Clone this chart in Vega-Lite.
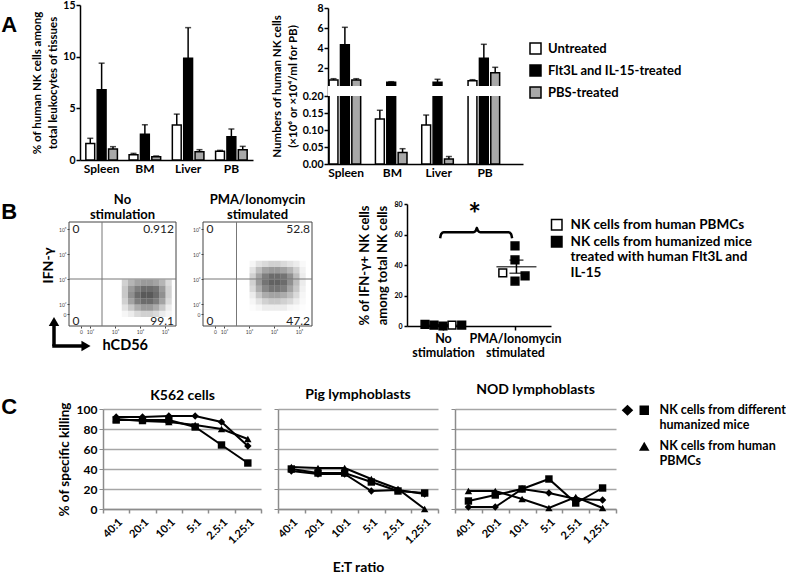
{
"$schema":"https://vega.github.io/schema/vega-lite/v6.json",
"padding":{"left":1,"top":0,"right":0,"bottom":0},
"background":"white",
"bounds":"full",
"spacing":5,
"resolve":{"scale":{"fill":"independent","shape":"independent","opacity":"independent"},"legend":{"fill":"independent","shape":"independent","opacity":"independent"}},
"config":{
 "view":{"stroke":null},
 "font":"Lato",
 "axis":{"labelColor":"black","titleColor":"black","domainColor":"black","tickColor":"black","grid":false,"labelFontWeight":"bold","titleFontWeight":"bold","labelFont":"Lato","titleFont":"Lato","labelOverlap":false},
 "legend":{"labelColor":"black","labelFont":"Lato","labelFontWeight":"bold","padding":0,"labelLimit":400},
 "title":{"color":"black","font":"Lato","fontWeight":"bold"}
},
"datasets":{
 "a1":[
  {"t":"Spleen","g":"Untreated","v":1.6,"e":2.1},
  {"t":"Spleen","g":"Flt3L and IL-15-treated","v":6.8,"e":9.37},
  {"t":"Spleen","g":"PBS-treated","v":1.06,"e":1.29},
  {"t":"BM","g":"Untreated","v":0.51,"e":0.64},
  {"t":"BM","g":"Flt3L and IL-15-treated","v":2.5,"e":3.41},
  {"t":"BM","g":"PBS-treated","v":0.32,"e":0.39},
  {"t":"Liver","g":"Untreated","v":3.38,"e":4.44},
  {"t":"Liver","g":"Flt3L and IL-15-treated","v":9.85,"e":12.81},
  {"t":"Liver","g":"PBS-treated","v":0.8,"e":1.0},
  {"t":"PB","g":"Untreated","v":0.84,"e":0.93},
  {"t":"PB","g":"Flt3L and IL-15-treated","v":2.25,"e":3.0},
  {"t":"PB","g":"PBS-treated","v":1.0,"e":1.32}
 ],
 "a2":[
  {"t":"Spleen","g":"Untreated","v":0.8,"e":0.93},
  {"t":"Spleen","g":"Flt3L and IL-15-treated","v":4.33,"e":6.07},
  {"t":"Spleen","g":"PBS-treated","v":0.8,"e":0.93},
  {"t":"BM","g":"Untreated","v":0.132,"e":0.158},
  {"t":"BM","g":"Flt3L and IL-15-treated","v":0.57,"e":0.63},
  {"t":"BM","g":"PBS-treated","v":0.034,"e":0.045},
  {"t":"Liver","g":"Untreated","v":0.115,"e":0.144},
  {"t":"Liver","g":"Flt3L and IL-15-treated","v":0.57,"e":0.87},
  {"t":"Liver","g":"PBS-treated","v":0.015,"e":0.022},
  {"t":"PB","g":"Untreated","v":0.73,"e":0.83},
  {"t":"PB","g":"Flt3L and IL-15-treated","v":2.97,"e":4.37},
  {"t":"PB","g":"PBS-treated","v":1.53,"e":2.07}
 ],
 "flow":[
  {"p":"N","x":3.25,"y":2.75,"d":0.25},{"p":"N","x":3.5,"y":2.75,"d":0.4},{"p":"N","x":3.75,"y":2.75,"d":0.5},{"p":"N","x":4.0,"y":2.75,"d":0.55},{"p":"N","x":4.25,"y":2.75,"d":0.55},{"p":"N","x":4.5,"y":2.75,"d":0.5},{"p":"N","x":4.75,"y":2.75,"d":0.4},{"p":"N","x":5.0,"y":2.75,"d":0.2},
  {"p":"N","x":3.25,"y":2.5,"d":0.3},{"p":"N","x":3.5,"y":2.5,"d":0.55},{"p":"N","x":3.75,"y":2.5,"d":0.7},{"p":"N","x":4.0,"y":2.5,"d":0.8},{"p":"N","x":4.25,"y":2.5,"d":0.8},{"p":"N","x":4.5,"y":2.5,"d":0.75},{"p":"N","x":4.75,"y":2.5,"d":0.55},{"p":"N","x":5.0,"y":2.5,"d":0.25},
  {"p":"N","x":3.25,"y":2.25,"d":0.3},{"p":"N","x":3.5,"y":2.25,"d":0.6},{"p":"N","x":3.75,"y":2.25,"d":0.8},{"p":"N","x":4.0,"y":2.25,"d":0.9},{"p":"N","x":4.25,"y":2.25,"d":0.9},{"p":"N","x":4.5,"y":2.25,"d":0.8},{"p":"N","x":4.75,"y":2.25,"d":0.6},{"p":"N","x":5.0,"y":2.25,"d":0.25},
  {"p":"N","x":3.25,"y":2.0,"d":0.25},{"p":"N","x":3.5,"y":2.0,"d":0.5},{"p":"N","x":3.75,"y":2.0,"d":0.7},{"p":"N","x":4.0,"y":2.0,"d":0.8},{"p":"N","x":4.25,"y":2.0,"d":0.8},{"p":"N","x":4.5,"y":2.0,"d":0.7},{"p":"N","x":4.75,"y":2.0,"d":0.5},{"p":"N","x":5.0,"y":2.0,"d":0.2},
  {"p":"N","x":3.25,"y":1.75,"d":0.15},{"p":"N","x":3.5,"y":1.75,"d":0.3},{"p":"N","x":3.75,"y":1.75,"d":0.45},{"p":"N","x":4.0,"y":1.75,"d":0.55},{"p":"N","x":4.25,"y":1.75,"d":0.55},{"p":"N","x":4.5,"y":1.75,"d":0.45},{"p":"N","x":4.75,"y":1.75,"d":0.3},{"p":"N","x":5.0,"y":1.75,"d":0.1},
  {"p":"N","x":3.25,"y":1.5,"d":0.05},{"p":"N","x":3.5,"y":1.5,"d":0.1},{"p":"N","x":3.75,"y":1.5,"d":0.2},{"p":"N","x":4.0,"y":1.5,"d":0.25},{"p":"N","x":4.25,"y":1.5,"d":0.25},{"p":"N","x":4.5,"y":1.5,"d":0.2},{"p":"N","x":4.75,"y":1.5,"d":0.1},{"p":"N","x":5.0,"y":1.5,"d":0.05},
  {"p":"P","x":3.0,"y":3.5,"d":0.05},{"p":"P","x":3.25,"y":3.5,"d":0.15},{"p":"P","x":3.5,"y":3.5,"d":0.2},{"p":"P","x":3.75,"y":3.5,"d":0.25},{"p":"P","x":4.0,"y":3.5,"d":0.25},{"p":"P","x":4.25,"y":3.5,"d":0.2},{"p":"P","x":4.5,"y":3.5,"d":0.15},{"p":"P","x":4.75,"y":3.5,"d":0.1},{"p":"P","x":5.0,"y":3.5,"d":0.03},
  {"p":"P","x":3.0,"y":3.25,"d":0.15},{"p":"P","x":3.25,"y":3.25,"d":0.35},{"p":"P","x":3.5,"y":3.25,"d":0.5},{"p":"P","x":3.75,"y":3.25,"d":0.55},{"p":"P","x":4.0,"y":3.25,"d":0.55},{"p":"P","x":4.25,"y":3.25,"d":0.5},{"p":"P","x":4.5,"y":3.25,"d":0.4},{"p":"P","x":4.75,"y":3.25,"d":0.25},{"p":"P","x":5.0,"y":3.25,"d":0.08},
  {"p":"P","x":3.0,"y":3.0,"d":0.25},{"p":"P","x":3.25,"y":3.0,"d":0.5},{"p":"P","x":3.5,"y":3.0,"d":0.7},{"p":"P","x":3.75,"y":3.0,"d":0.8},{"p":"P","x":4.0,"y":3.0,"d":0.8},{"p":"P","x":4.25,"y":3.0,"d":0.75},{"p":"P","x":4.5,"y":3.0,"d":0.6},{"p":"P","x":4.75,"y":3.0,"d":0.35},{"p":"P","x":5.0,"y":3.0,"d":0.1},
  {"p":"P","x":3.0,"y":2.75,"d":0.25},{"p":"P","x":3.25,"y":2.75,"d":0.55},{"p":"P","x":3.5,"y":2.75,"d":0.75},{"p":"P","x":3.75,"y":2.75,"d":0.85},{"p":"P","x":4.0,"y":2.75,"d":0.85},{"p":"P","x":4.25,"y":2.75,"d":0.8},{"p":"P","x":4.5,"y":2.75,"d":0.6},{"p":"P","x":4.75,"y":2.75,"d":0.35},{"p":"P","x":5.0,"y":2.75,"d":0.1},
  {"p":"P","x":3.0,"y":2.5,"d":0.2},{"p":"P","x":3.25,"y":2.5,"d":0.45},{"p":"P","x":3.5,"y":2.5,"d":0.65},{"p":"P","x":3.75,"y":2.5,"d":0.75},{"p":"P","x":4.0,"y":2.5,"d":0.75},{"p":"P","x":4.25,"y":2.5,"d":0.7},{"p":"P","x":4.5,"y":2.5,"d":0.5},{"p":"P","x":4.75,"y":2.5,"d":0.3},{"p":"P","x":5.0,"y":2.5,"d":0.08},
  {"p":"P","x":3.0,"y":2.25,"d":0.1},{"p":"P","x":3.25,"y":2.25,"d":0.3},{"p":"P","x":3.5,"y":2.25,"d":0.45},{"p":"P","x":3.75,"y":2.25,"d":0.5},{"p":"P","x":4.0,"y":2.25,"d":0.5},{"p":"P","x":4.25,"y":2.25,"d":0.45},{"p":"P","x":4.5,"y":2.25,"d":0.35},{"p":"P","x":4.75,"y":2.25,"d":0.2},{"p":"P","x":5.0,"y":2.25,"d":0.05},
  {"p":"P","x":3.0,"y":2.0,"d":0.05},{"p":"P","x":3.25,"y":2.0,"d":0.15},{"p":"P","x":3.5,"y":2.0,"d":0.25},{"p":"P","x":3.75,"y":2.0,"d":0.3},{"p":"P","x":4.0,"y":2.0,"d":0.3},{"p":"P","x":4.25,"y":2.0,"d":0.25},{"p":"P","x":4.5,"y":2.0,"d":0.2},{"p":"P","x":4.75,"y":2.0,"d":0.1},{"p":"P","x":5.0,"y":2.0,"d":0.03},
  {"p":"P","x":3.0,"y":1.75,"d":0.02},{"p":"P","x":3.25,"y":1.75,"d":0.05},{"p":"P","x":3.5,"y":1.75,"d":0.1},{"p":"P","x":3.75,"y":1.75,"d":0.1},{"p":"P","x":4.0,"y":1.75,"d":0.1},{"p":"P","x":4.25,"y":1.75,"d":0.1},{"p":"P","x":4.5,"y":1.75,"d":0.05},{"p":"P","x":4.75,"y":1.75,"d":0.03},{"p":"P","x":5.0,"y":1.75,"d":0.01}
 ],
 "flowlab":[
  {"p":"N","q":"UL","t":"0"},{"p":"N","q":"UR","t":"0.912"},{"p":"N","q":"LL","t":"0"},{"p":"N","q":"LR","t":"99.1"},
  {"p":"P","q":"UL","t":"0"},{"p":"P","q":"UR","t":"52.8"},{"p":"P","q":"LL","t":"0"},{"p":"P","q":"LR","t":"47.2"}
 ],
 "dots":[
  {"x":0.25,"y":1.0,"g":"mice"},{"x":0.375,"y":0.5,"g":"mice"},{"x":0.5,"y":0.0,"g":"mice"},{"x":0.625,"y":0.5,"g":"PBMC"},{"x":0.76,"y":0.6,"g":"mice"},
  {"x":1.5,"y":52.5,"g":"mice"},{"x":1.5,"y":43.3,"g":"mice"},{"x":1.33,"y":34.8,"g":"PBMC"},{"x":1.64,"y":32.8,"g":"mice"},{"x":1.5,"y":29.5,"g":"mice"}
 ],
 "dsum":[{"x":1.52,"m":38.9,"hi":43.2,"lo":34.6},{"x":0.5,"m":0.5,"hi":0.8,"lo":0.2}],
 "brace":[
  {"x":0.46,"y":57.5},{"x":0.475,"y":60.3},{"x":0.51,"y":61.5},{"x":0.92,"y":61.5},{"x":0.955,"y":62.5},{"x":0.97,"y":64.5},{"x":0.985,"y":62.5},{"x":1.02,"y":61.5},{"x":1.41,"y":61.5},{"x":1.445,"y":60.3},{"x":1.46,"y":57.5}
 ],
 "c":[
  {"k":"K562","r":"40:1","s":"m1","grp":"mice","v":92},{"k":"K562","r":"20:1","s":"m1","grp":"mice","v":92},{"k":"K562","r":"10:1","s":"m1","grp":"mice","v":93},{"k":"K562","r":"5:1","s":"m1","grp":"mice","v":93},{"k":"K562","r":"2.5:1","s":"m1","grp":"mice","v":87},{"k":"K562","r":"1.25:1","s":"m1","grp":"mice","v":63},
  {"k":"K562","r":"40:1","s":"m2","grp":"mice","v":89},{"k":"K562","r":"20:1","s":"m2","grp":"mice","v":89},{"k":"K562","r":"10:1","s":"m2","grp":"mice","v":89},{"k":"K562","r":"5:1","s":"m2","grp":"mice","v":82},{"k":"K562","r":"2.5:1","s":"m2","grp":"mice","v":64},{"k":"K562","r":"1.25:1","s":"m2","grp":"mice","v":46},
  {"k":"K562","r":"40:1","s":"PBMC","grp":"PBMC","v":90},{"k":"K562","r":"20:1","s":"PBMC","grp":"PBMC","v":88},{"k":"K562","r":"10:1","s":"PBMC","grp":"PBMC","v":87},{"k":"K562","r":"5:1","s":"PBMC","grp":"PBMC","v":84},{"k":"K562","r":"2.5:1","s":"PBMC","grp":"PBMC","v":80},{"k":"K562","r":"1.25:1","s":"PBMC","grp":"PBMC","v":70},
  {"k":"Pig","r":"40:1","s":"m1","grp":"mice","v":38},{"k":"Pig","r":"20:1","s":"m1","grp":"mice","v":35},{"k":"Pig","r":"10:1","s":"m1","grp":"mice","v":35},{"k":"Pig","r":"5:1","s":"m1","grp":"mice","v":18},{"k":"Pig","r":"2.5:1","s":"m1","grp":"mice","v":19},{"k":"Pig","r":"1.25:1","s":"m1","grp":"mice","v":15},
  {"k":"Pig","r":"40:1","s":"m2","grp":"mice","v":40},{"k":"Pig","r":"20:1","s":"m2","grp":"mice","v":36},{"k":"Pig","r":"10:1","s":"m2","grp":"mice","v":36},{"k":"Pig","r":"5:1","s":"m2","grp":"mice","v":27},{"k":"Pig","r":"2.5:1","s":"m2","grp":"mice","v":18},{"k":"Pig","r":"1.25:1","s":"m2","grp":"mice","v":16},
  {"k":"Pig","r":"40:1","s":"PBMC","grp":"PBMC","v":42},{"k":"Pig","r":"20:1","s":"PBMC","grp":"PBMC","v":41},{"k":"Pig","r":"10:1","s":"PBMC","grp":"PBMC","v":41},{"k":"Pig","r":"5:1","s":"PBMC","grp":"PBMC","v":30},{"k":"Pig","r":"2.5:1","s":"PBMC","grp":"PBMC","v":20},{"k":"Pig","r":"1.25:1","s":"PBMC","grp":"PBMC","v":0},
  {"k":"NOD","r":"40:1","s":"m1","grp":"mice","v":2},{"k":"NOD","r":"20:1","s":"m1","grp":"mice","v":2},{"k":"NOD","r":"10:1","s":"m1","grp":"mice","v":20},{"k":"NOD","r":"5:1","s":"m1","grp":"mice","v":16},{"k":"NOD","r":"2.5:1","s":"m1","grp":"mice","v":10},{"k":"NOD","r":"1.25:1","s":"m1","grp":"mice","v":9},
  {"k":"NOD","r":"40:1","s":"m2","grp":"mice","v":8},{"k":"NOD","r":"20:1","s":"m2","grp":"mice","v":14},{"k":"NOD","r":"10:1","s":"m2","grp":"mice","v":20},{"k":"NOD","r":"5:1","s":"m2","grp":"mice","v":30},{"k":"NOD","r":"2.5:1","s":"m2","grp":"mice","v":6},{"k":"NOD","r":"1.25:1","s":"m2","grp":"mice","v":21},
  {"k":"NOD","r":"40:1","s":"PBMC","grp":"PBMC","v":18},{"k":"NOD","r":"20:1","s":"PBMC","grp":"PBMC","v":18},{"k":"NOD","r":"10:1","s":"PBMC","grp":"PBMC","v":10},{"k":"NOD","r":"5:1","s":"PBMC","grp":"PBMC","v":1},{"k":"NOD","r":"2.5:1","s":"PBMC","grp":"PBMC","v":12},{"k":"NOD","r":"1.25:1","s":"PBMC","grp":"PBMC","v":1}
 ]
},
"vconcat":[
 {"hconcat":[
  {"width":30,"height":155,"data":{"values":[]},"mark":"point",
   "title":{"text":"A","orient":"left","anchor":"end","angle":0,"frame":"group","offset":0,"baseline":"top","dy":10,"fontSize":22,"font":"Liberation Sans"}},
  {"width":231,"height":155,"data":{"name":"a1"},
   "layer":[
    {"mark":{"type":"bar","stroke":"black","strokeWidth":1.5},
     "encoding":{
      "x":{"field":"t","type":"nominal","sort":["Spleen","BM","Liver","PB"],"scale":{"range":[0,173],"paddingInner":0.27,"paddingOuter":0.135},"axis":{"title":null,"labelAngle":0,"ticks":false,"domainWidth":1.5,"labelFontSize":12,"labelPadding":3}},
      "xOffset":{"field":"g","type":"nominal","sort":["Untreated","Flt3L and IL-15-treated","PBS-treated"],"scale":{"paddingInner":0.22}},
      "y":{"field":"v","type":"quantitative","scale":{"domain":[0,15],"nice":false},"axis":{"values":[0,5,10,15],"tickCount":20,"title":["% of human NK cells among","total leukocytes of tissues"],"titleFontSize":11.5,"titleLineHeight":16,"labelFontSize":10.5,"tickSize":4,"tickWidth":1.5,"domainWidth":1.5,"titlePadding":4,"labelPadding":1}},
      "fill":{"field":"g","type":"nominal","scale":{"domain":["Untreated","Flt3L and IL-15-treated","PBS-treated"],"range":["white","black","#a8a8a8"]},"legend":null}}},
    {"mark":{"type":"rule","color":"black","strokeWidth":1.5},
     "encoding":{
      "x":{"field":"t","type":"nominal","sort":["Spleen","BM","Liver","PB"]},
      "xOffset":{"field":"g","type":"nominal","sort":["Untreated","Flt3L and IL-15-treated","PBS-treated"]},
      "y":{"field":"v","type":"quantitative"},"y2":{"field":"e"}}},
    {"mark":{"type":"tick","color":"black","thickness":1.5,"size":6,"orient":"horizontal"},
     "encoding":{
      "x":{"field":"t","type":"nominal","sort":["Spleen","BM","Liver","PB"]},
      "xOffset":{"field":"g","type":"nominal","sort":["Untreated","Flt3L and IL-15-treated","PBS-treated"]},
      "y":{"field":"e","type":"quantitative"}}}
   ]},
  {"width":195,"height":159,
   "layer":[
    {"data":{"name":"a2"},"mark":{"type":"bar","stroke":"black","strokeWidth":1.5},
     "encoding":{
      "x":{"field":"t","type":"nominal","sort":["Spleen","BM","Liver","PB"],"scale":{"paddingInner":0.266,"paddingOuter":0.238,"align":0.05},"axis":{"title":null,"labelAngle":0,"ticks":false,"domainWidth":1.5,"labelFontSize":12,"labelPadding":3}},
      "xOffset":{"field":"g","type":"nominal","sort":["Untreated","Flt3L and IL-15-treated","PBS-treated"],"scale":{"paddingInner":0.22}},
      "y":{"field":"v","type":"quantitative","scale":{"domain":[0,0.2,0.2001,8],"range":[159,91,81,3],"nice":false,"zero":false},"axis":{"values":[0,0.05,0.1,0.15,0.2,2,4,6,8],"tickCount":40,"labelExpr":"datum.value < 1 ? format(datum.value, '.2f') : format(datum.value, 'd')","title":["Numbers of human NK cells","(×10⁶ or ×10⁴/ml for PB)"],"titleFontSize":11.5,"titleLineHeight":16,"labelFontSize":10.5,"tickSize":4,"tickWidth":1.5,"domainWidth":1.5,"titlePadding":4,"labelPadding":1}},
      "fill":{"field":"g","type":"nominal","scale":{"domain":["Untreated","Flt3L and IL-15-treated","PBS-treated"],"range":["white","black","#a8a8a8"]},
        "legend":{"orient":"none","legendX":201,"legendY":37,"title":null,"symbolType":"square","symbolSize":121,"symbolStrokeColor":"black","symbolStrokeWidth":1.5,"labelFontSize":13,"labelOffset":6,"rowPadding":5}}}},
    {"data":{"name":"a2"},"mark":{"type":"rule","color":"black","strokeWidth":1.5},
     "encoding":{
      "x":{"field":"t","type":"nominal","sort":["Spleen","BM","Liver","PB"]},
      "xOffset":{"field":"g","type":"nominal","sort":["Untreated","Flt3L and IL-15-treated","PBS-treated"]},
      "y":{"field":"v","type":"quantitative"},"y2":{"field":"e"}}},
    {"data":{"name":"a2"},"mark":{"type":"tick","color":"black","thickness":1.5,"size":6,"orient":"horizontal"},
     "encoding":{
      "x":{"field":"t","type":"nominal","sort":["Spleen","BM","Liver","PB"]},
      "xOffset":{"field":"g","type":"nominal","sort":["Untreated","Flt3L and IL-15-treated","PBS-treated"]},
      "y":{"field":"e","type":"quantitative"}}},
    {"data":{"values":[{}]},"mark":{"type":"rect","color":"white"},
     "encoding":{"y":{"datum":0.2},"y2":{"datum":0.2001}}}
   ]}
  ],
  "spacing":17,"bounds":"flush",
  "resolve":{"scale":{"fill":"independent"},"legend":{"fill":"independent"}}},

 {"width":1,"height":5,"data":{"values":[]},"mark":"point"},

 {"hconcat":[
  {"width":9,"height":122,"data":{"values":[]},"mark":"point",
   "title":{"text":"B","orient":"left","anchor":"end","angle":0,"frame":"group","offset":0,"baseline":"top","dy":-2,"fontSize":22,"font":"Liberation Sans"}},
  {"width":107,"height":122,
   "layer":[
    {"data":{"name":"flow"},"transform":[{"filter":"datum.p=='N'"}],"mark":{"type":"rect","color":"#262626"},
     "encoding":{
      "x":{"field":"x","type":"quantitative","bin":{"binned":true,"step":0.25},"scale":{"domain":[1.16,5.44],"nice":false,"zero":false},
       "axis":{"values":[1.64,2,3,4,5],"tickCount":20,"labelExpr":"datum.value < 1.8 ? '0' : datum.value == 2 ? '10²' : datum.value == 3 ? '10³' : datum.value == 4 ? '10⁴' : '10⁵'","labelFontSize":5,"labelFontWeight":"normal","labelColor":"#444","tickColor":"#444","tickSize":2,"domain":false,"labelPadding":1,"title":"hCD56","titleFontSize":14.5,"titlePadding":4,"titleAlign":"left","titleX":33}},
      "y":{"field":"y","type":"quantitative","bin":{"binned":true,"step":0.25},"scale":{"domain":[1.12,6.0],"nice":false,"zero":false},
       "axis":{"values":[1.6,2,3,4,5],"tickCount":20,"labelExpr":"datum.value < 1.8 ? '0' : datum.value == 2 ? '10²' : datum.value == 3 ? '10³' : datum.value == 4 ? '10⁴' : '10⁵'","labelFontSize":5,"labelFontWeight":"normal","labelColor":"#444","tickColor":"#444","tickSize":2,"domain":false,"labelPadding":1,"title":"IFN-γ","titleFontSize":14,"titlePadding":3}},
      "opacity":{"field":"d","type":"quantitative","scale":{"domain":[0,1],"range":[0,0.85]},"legend":null}}},
    {"data":{"values":[{}]},"mark":{"type":"rect","filled":false,"color":"#444","strokeWidth":1},
     "encoding":{"x":{"datum":1.16},"x2":{"datum":5.44},"y":{"datum":1.12},"y2":{"datum":5.28}}},
    {"data":{"values":[{}]},"mark":{"type":"rule","color":"#777","strokeWidth":1},
     "encoding":{"x":{"datum":2.48},"y":{"datum":1.12},"y2":{"datum":5.28}}},
    {"data":{"values":[{}]},"mark":{"type":"rule","color":"#777","strokeWidth":1},
     "encoding":{"x":{"datum":1.16},"x2":{"datum":5.44},"y":{"datum":3.0}}},
    {"data":{"name":"flowlab"},"transform":[{"filter":"datum.p=='N' && datum.q=='UL'"}],"mark":{"type":"text","align":"left","fontSize":12,"color":"#222"},
     "encoding":{"x":{"datum":1.3},"y":{"datum":5.0},"text":{"field":"t"}}},
    {"data":{"name":"flowlab"},"transform":[{"filter":"datum.p=='N' && datum.q=='UR'"}],"mark":{"type":"text","align":"right","fontSize":12,"color":"#222"},
     "encoding":{"x":{"datum":5.36},"y":{"datum":5.0},"text":{"field":"t"}}},
    {"data":{"name":"flowlab"},"transform":[{"filter":"datum.p=='N' && datum.q=='LL'"}],"mark":{"type":"text","align":"left","fontSize":12,"color":"#222"},
     "encoding":{"x":{"datum":1.3},"y":{"datum":1.34},"text":{"field":"t"}}},
    {"data":{"name":"flowlab"},"transform":[{"filter":"datum.p=='N' && datum.q=='LR'"}],"mark":{"type":"text","align":"right","fontSize":12,"color":"#222"},
     "encoding":{"x":{"datum":5.36},"y":{"datum":1.34},"text":{"field":"t"}}},
    {"data":{"values":[{}]},"mark":{"type":"text","baseline":"middle","fontSize":13,"fontWeight":"bold","lineHeight":15},
     "encoding":{"x":{"datum":3.3},"y":{"datum":6.16},"text":{"value":["No","stimulation"]}}},
    {"data":{"values":[{}]},"mark":{"type":"rule","strokeWidth":3.5,"color":"black"},
     "encoding":{"x":{"datum":0.56},"y":{"datum":1.25},"y2":{"datum":0.32}}},
    {"data":{"values":[{}]},"mark":{"type":"rule","strokeWidth":3.5,"color":"black"},
     "encoding":{"x":{"datum":0.49},"x2":{"datum":1.8},"y":{"datum":0.32}}},
    {"data":{"values":[{}]},"mark":{"type":"point","shape":"triangle-up","filled":true,"size":110,"color":"black","opacity":1},
     "encoding":{"x":{"datum":0.56},"y":{"datum":1.3}}},
    {"data":{"values":[{}]},"mark":{"type":"point","shape":"triangle-right","filled":true,"size":110,"color":"black","opacity":1},
     "encoding":{"x":{"datum":1.84},"y":{"datum":0.32}}}
   ]},
  {"width":177,"height":122,
   "layer":[
    {"data":{"name":"flow"},"transform":[{"filter":"datum.p=='P'"}],"mark":{"type":"rect","color":"#262626"},
     "encoding":{
      "x":{"field":"x","type":"quantitative","bin":{"binned":true,"step":0.25},"scale":{"domain":[1.16,8.24],"nice":false,"zero":false},
       "axis":{"values":[1.64,2,3,4,5],"tickCount":20,"labelExpr":"datum.value < 1.8 ? '0' : datum.value == 2 ? '10²' : datum.value == 3 ? '10³' : datum.value == 4 ? '10⁴' : '10⁵'","labelFontSize":5,"labelFontWeight":"normal","labelColor":"#444","tickColor":"#444","tickSize":2,"domain":false,"labelPadding":1,"title":null}},
      "y":{"field":"y","type":"quantitative","bin":{"binned":true,"step":0.25},"scale":{"domain":[1.12,6.0],"nice":false,"zero":false},
       "axis":{"values":[1.6,2,3,4,5],"tickCount":20,"labelExpr":"datum.value < 1.8 ? '0' : datum.value == 2 ? '10²' : datum.value == 3 ? '10³' : datum.value == 4 ? '10⁴' : '10⁵'","labelFontSize":5,"labelFontWeight":"normal","labelColor":"#444","tickColor":"#444","tickSize":2,"domain":false,"labelPadding":1,"title":null}},
      "opacity":{"field":"d","type":"quantitative","scale":{"domain":[0,1],"range":[0,0.85]},"legend":null}}},
    {"data":{"values":[{}]},"mark":{"type":"rect","filled":false,"color":"#444","strokeWidth":1},
     "encoding":{"x":{"datum":1.16},"x2":{"datum":5.52},"y":{"datum":1.12},"y2":{"datum":5.28}}},
    {"data":{"values":[{}]},"mark":{"type":"rule","color":"#777","strokeWidth":1},
     "encoding":{"x":{"datum":2.5},"y":{"datum":1.12},"y2":{"datum":5.28}}},
    {"data":{"values":[{}]},"mark":{"type":"rule","color":"#777","strokeWidth":1},
     "encoding":{"x":{"datum":1.16},"x2":{"datum":5.52},"y":{"datum":3.0}}},
    {"data":{"name":"flowlab"},"transform":[{"filter":"datum.p=='P' && datum.q=='UL'"}],"mark":{"type":"text","align":"left","fontSize":12,"color":"#222"},
     "encoding":{"x":{"datum":1.3},"y":{"datum":5.0},"text":{"field":"t"}}},
    {"data":{"name":"flowlab"},"transform":[{"filter":"datum.p=='P' && datum.q=='UR'"}],"mark":{"type":"text","align":"right","fontSize":12,"color":"#222"},
     "encoding":{"x":{"datum":5.44},"y":{"datum":5.0},"text":{"field":"t"}}},
    {"data":{"name":"flowlab"},"transform":[{"filter":"datum.p=='P' && datum.q=='LL'"}],"mark":{"type":"text","align":"left","fontSize":12,"color":"#222"},
     "encoding":{"x":{"datum":1.3},"y":{"datum":1.34},"text":{"field":"t"}}},
    {"data":{"name":"flowlab"},"transform":[{"filter":"datum.p=='P' && datum.q=='LR'"}],"mark":{"type":"text","align":"right","fontSize":12,"color":"#222"},
     "encoding":{"x":{"datum":5.44},"y":{"datum":1.34},"text":{"field":"t"}}},
    {"data":{"values":[{}]},"mark":{"type":"text","baseline":"middle","fontSize":13,"fontWeight":"bold","lineHeight":15},
     "encoding":{"x":{"datum":3.34},"y":{"datum":6.16},"text":{"value":["PMA/Ionomycin","stimulated"]}}}
   ]},
  {"width":144,"height":122,
   "layer":[
    {"data":{"name":"dsum"},"mark":{"type":"tick","orient":"horizontal","size":40,"thickness":1.5,"color":"black"},
     "encoding":{"x":{"field":"x","type":"quantitative","scale":{"domain":[0,2],"nice":false,"zero":false},
       "axis":{"values":[0.5,1.5],"tickCount":20,"labelExpr":"datum.value < 1 ? ['No','stimulation'] : ['PMA/Ionomycin','stimulated']","labelFontSize":12.5,"labelLineHeight":14,"tickSize":4,"tickWidth":1.5,"domainWidth":1.5,"title":null,"labelPadding":2}},
      "y":{"field":"m","type":"quantitative","scale":{"domain":[0,80],"nice":false},
       "axis":{"values":[0,20,40,60,80],"tickCount":20,"labelFontSize":7,"tickSize":3,"tickWidth":1.5,"domainWidth":1.5,"title":["% of IFN-γ+ NK cells","among total NK cells"],"titleFontSize":13,"titlePadding":4,"titleLineHeight":18}}}},
    {"data":{"name":"dsum"},"mark":{"type":"rule","color":"black","strokeWidth":1.5},
     "encoding":{"x":{"field":"x","type":"quantitative"},"y":{"field":"lo","type":"quantitative"},"y2":{"field":"hi"}}},
    {"data":{"name":"dsum"},"mark":{"type":"tick","orient":"horizontal","size":14,"thickness":1.5,"color":"black"},
     "encoding":{"x":{"field":"x","type":"quantitative"},"y":{"field":"hi","type":"quantitative"}}},
    {"data":{"name":"dsum"},"mark":{"type":"tick","orient":"horizontal","size":14,"thickness":1.5,"color":"black"},
     "encoding":{"x":{"field":"x","type":"quantitative"},"y":{"field":"lo","type":"quantitative"}}},
    {"data":{"name":"dots"},"mark":{"type":"point","shape":"square","filled":true,"size":60,"stroke":"black","strokeWidth":1.5,"opacity":1},
     "encoding":{"x":{"field":"x","type":"quantitative"},"y":{"field":"y","type":"quantitative"},
      "fill":{"field":"g","type":"nominal","scale":{"domain":["PBMC","mice"],"range":["white","black"]},
       "legend":{"orient":"none","legendX":143,"legendY":14,"title":null,"symbolType":"square","symbolSize":110,"symbolStrokeColor":"black","symbolStrokeWidth":1.5,"labelFontSize":13.5,"labelOffset":7,"rowPadding":0,
        "labelExpr":"datum.value=='PBMC' ? 'NK cells from human PBMCs' : ['NK cells from humanized mice','treated with human Flt3L and','IL-15']"}}}},
    {"data":{"name":"brace"},"mark":{"type":"line","color":"black","strokeWidth":2.5,"interpolate":"monotone"},
     "encoding":{"x":{"field":"x","type":"quantitative"},"y":{"field":"y","type":"quantitative"}}},
    {"data":{"values":[{}]},"mark":{"type":"text","text":"*","fontSize":30,"fontWeight":"bold","baseline":"middle"},
     "encoding":{"x":{"datum":0.94},"y":{"datum":72}}}
   ]}
  ],
  "spacing":27,"bounds":"flush",
  "resolve":{"scale":{"fill":"independent","opacity":"independent"},"legend":{"fill":"independent","opacity":"independent"}}},

 {"width":1,"height":14,"data":{"values":[]},"mark":"point"},

 {"hconcat":[
  {"width":53,"height":100,"data":{"values":[]},"mark":"point",
   "title":{"text":"C","orient":"left","anchor":"end","angle":0,"frame":"group","offset":0,"baseline":"top","dy":-12,"fontSize":22,"font":"Liberation Sans"}},
  {"width":158,"height":100,"data":{"name":"c"},"transform":[{"filter":"datum.k=='K562'"}],
   "encoding":{
    "y":{"field":"v","type":"quantitative","scale":{"domain":[0,100],"nice":false},
     "axis":{"values":[0,20,40,60,80,100],"tickCount":20,"grid":true,"gridColor":"#a6a6a6","gridWidth":1.5,"domainColor":"#8c8c8c","domainWidth":1.5,"tickColor":"#8c8c8c","tickSize":4,"labelFontSize":12,"title":"% of specific killing","titleFontSize":13.5,"titlePadding":5}}},
   "layer":[
    {"mark":{"type":"line","color":"black","strokeWidth":2},
     "encoding":{"x":{"field":"r","type":"ordinal","sort":["40:1","20:1","10:1","5:1","2.5:1","1.25:1"],"scale":{"type":"band","paddingInner":0,"paddingOuter":0},
       "axis":{"orient":"top","title":"K562 cells","titleFontSize":14,"titlePadding":7,"labels":false,"ticks":false,"domain":false}},
      "detail":{"field":"s"}}},
    {"mark":{"type":"point","filled":true,"color":"black","size":55,"opacity":1},
     "encoding":{"x":{"field":"r","type":"ordinal","sort":["40:1","20:1","10:1","5:1","2.5:1","1.25:1"],"scale":{"type":"band","paddingInner":0,"paddingOuter":0},
       "axis":{"orient":"bottom","title":null,"labelAngle":-45,"tickBand":"extent","domainColor":"#8c8c8c","tickColor":"#8c8c8c","domainWidth":1.5,"tickWidth":1.5,"tickSize":4,"labelFontSize":11,"labelPadding":3}},
      "shape":{"field":"s","type":"nominal","scale":{"domain":["m1","m2","PBMC"],"range":["diamond","square","triangle-up"]},"legend":null}}}
   ],
   "resolve":{"scale":{"x":"independent"},"axis":{"x":"independent"}}},
  {"width":160,"height":100,"data":{"name":"c"},"transform":[{"filter":"datum.k=='Pig'"}],
   "title":{"text":"Pig lymphoblasts","fontSize":14,"offset":7,"frame":"group"},
   "encoding":{
    "x":{"field":"r","type":"ordinal","sort":["40:1","20:1","10:1","5:1","2.5:1","1.25:1"],"scale":{"type":"band","paddingInner":0,"paddingOuter":0},
     "axis":{"title":"E:T ratio","titleFontSize":14,"titlePadding":15,"labelAngle":-45,"tickBand":"extent","domainColor":"#8c8c8c","tickColor":"#8c8c8c","domainWidth":1.5,"tickWidth":1.5,"tickSize":4,"labelFontSize":11,"labelPadding":3}},
    "y":{"field":"v","type":"quantitative","scale":{"domain":[0,100],"nice":false},
     "axis":{"values":[0,20,40,60,80,100],"tickCount":20,"grid":true,"gridColor":"#a6a6a6","gridWidth":1.5,"domainColor":"#8c8c8c","domainWidth":1.5,"tickColor":"#8c8c8c","tickSize":4,"labels":false,"title":null}}},
   "layer":[
    {"mark":{"type":"line","color":"black","strokeWidth":2},"encoding":{"detail":{"field":"s"}}},
    {"mark":{"type":"point","filled":true,"color":"black","size":55,"opacity":1},
     "encoding":{"shape":{"field":"s","type":"nominal","scale":{"domain":["m1","m2","PBMC"],"range":["diamond","square","triangle-up"]},"legend":null}}}
   ]},
  {"width":161,"height":100,"data":{"name":"c"},"transform":[{"filter":"datum.k=='NOD'"}],
   "title":{"text":"NOD lymphoblasts","fontSize":14,"offset":7,"frame":"group"},
   "encoding":{
    "x":{"field":"r","type":"ordinal","sort":["40:1","20:1","10:1","5:1","2.5:1","1.25:1"],"scale":{"type":"band","paddingInner":0,"paddingOuter":0},
     "axis":{"title":null,"labelAngle":-45,"tickBand":"extent","domainColor":"#8c8c8c","tickColor":"#8c8c8c","domainWidth":1.5,"tickWidth":1.5,"tickSize":4,"labelFontSize":11,"labelPadding":3}},
    "y":{"field":"v","type":"quantitative","scale":{"domain":[0,100],"nice":false},
     "axis":{"values":[0,20,40,60,80,100],"tickCount":20,"grid":true,"gridColor":"#a6a6a6","gridWidth":1.5,"domainColor":"#8c8c8c","domainWidth":1.5,"tickColor":"#8c8c8c","tickSize":4,"labels":false,"title":null}}},
   "layer":[
    {"mark":{"type":"line","color":"black","strokeWidth":2},"encoding":{"detail":{"field":"s"}}},
    {"mark":{"type":"point","filled":true,"color":"black","size":55,"opacity":1},
     "encoding":{"shape":{"field":"s","type":"nominal","scale":{"domain":["m1","m2","PBMC"],"range":["diamond","square","triangle-up"]},"legend":null}}},
    {"mark":{"type":"point","filled":true,"color":"black","size":110,"opacity":0},
     "encoding":{"shape":{"field":"grp","type":"nominal","scale":{"domain":["mice","PBMC"],"range":["M-4.3,0L-3.2,-1.05L-2.1,0L-3.2,1.05Z M-0.9,-0.9H0.9V0.9H-0.9Z","triangle-up"]},
      "legend":{"orient":"none","legendX":183,"legendY":-5,"title":null,"symbolSize":110,"symbolFillColor":"black","symbolStrokeColor":"black","labelFontSize":12.5,"labelOffset":9,"rowPadding":6,
       "labelExpr":"datum.value=='mice' ? ['NK cells from different','humanized mice'] : ['NK cells from human','PBMCs']"}}}}
   ],
   "resolve":{"scale":{"shape":"independent"},"legend":{"shape":"independent"}}}
  ],
  "spacing":17,"bounds":"flush",
  "resolve":{"scale":{"shape":"independent"},"legend":{"shape":"independent"}}}
]
}
